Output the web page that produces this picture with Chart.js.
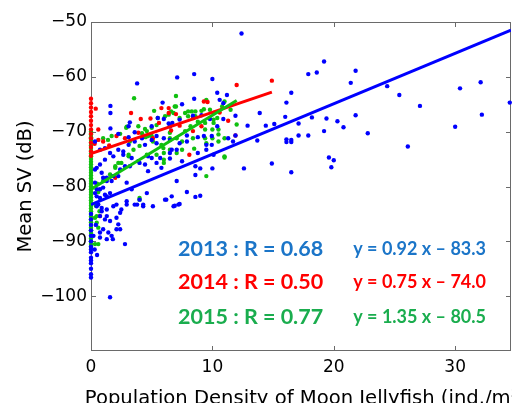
<!DOCTYPE html>
<html><head><meta charset="utf-8">
<script src="https://cdn.jsdelivr.net/npm/chart.js@4"></script>
<style>html,body{margin:0;padding:0;background:#fff;overflow:hidden}#wrap{width:512px;height:403px;overflow:hidden;position:relative}canvas{position:absolute;left:0;top:0}</style>
</head><body><div id="wrap"><canvas id="c" width="540" height="420" style="width:540px;height:420px"></canvas></div>
<script>
// ---- data ----
const xTicks = [0, 10, 20, 30];
const yTicks = [-100, -90, -80, -70, -60, -50];
const xTitle = 'Population Density of Moon Jellyfish (ind./m\u00B3)';
const yTitle = 'Mean SV (dB)';
const seriesNames = ['2013', '2014', '2015'];
const rLabels = ['2013 : R = 0.68', '2014 : R = 0.50', '2015 : R = 0.77'];
const eqLabels = ['y = 0.92 x \u2013 83.3', 'y = 0.75 x \u2013 74.0', 'y = 1.35 x \u2013 80.5'];

const points2013 = [
[0,-85],[0,-86],[0,-87],[0,-88],[0,-89],[0,-90],[0,-91],[0,-91.5],[0,-92],[0,-93],[0,-93.5],[0,-94],[0,-95],[0,-96],[0,-96.6],
[12.4,-52.1],[19.2,-57.2],[17.9,-59.5],[18.6,-59.2],[21.8,-58.9],[21.4,-61.1],[16.5,-62.9],[16.1,-64.7],[13.9,-66.6],[16.0,-67.3],[21.8,-67.0],[18.2,-67.4],[19.4,-67.6],[20.3,-68.1],[17.1,-68.5],[15.1,-68.6],[14.4,-68.9],[20.8,-69.2],[19.2,-69.9],[22.8,-70.3],[17.1,-70.7],[17.9,-70.7],[13.7,-71.6],[16.1,-71.4],[16.1,-71.9],[16.5,-71.5],[16.5,-71.9],[26.1,-72.7],[14.9,-75.8],[19.6,-74.7],[20.0,-75.2],[19.8,-76.5],[16.5,-77.4],[24.4,-61.7],[25.4,-63.3],[27.1,-65.3],[30.4,-62.1],[32.1,-61.0],[32.2,-66.9],[30.0,-69.1],[34.5,-64.7],
[8.5,-59.5],[7.1,-60.1],[10.0,-60.4],[3.8,-61.2],[10.4,-62.9],[8.5,-64.0],[10.6,-64.2],[11.2,-63.3],[1.6,-65.3],[1.6,-66.6],[5.9,-64.7],[7.5,-65.0],[1.6,-69.4],[2.25,-70.4],[9.1,-67.0],[10.9,-64.8],
[12.9,-68.9],[11.9,-67.1],[10.9,-67.7],[9.8,-67.7],[8.4,-67.1],[7.3,-67.8],[6.5,-69.0],[10.4,-69.0],[9.3,-70.8],[9.95,-70.8],[11.9,-70.7],[8.8,-71.0],[7.9,-70.7],
[3.2,-68.3],[3.1,-69.0],[3.6,-70.1],[5.5,-67.5],[6.0,-67.7],[6.7,-68.4],[5.4,-70.8],[3.1,-71.0],
[7.06,-79.0],[8.6,-76.3],[9.0,-76.7],[8.6,-77.9],[10.0,-76.7],[12.6,-76.7],[7.5,-75.4],[7.9,-81.0],[8.6,-81.9],[9.0,-81.7],[6.9,-83.5],[7.3,-83.2],[6.5,-74.9],[8.8,-73.9],[10.1,-74.2],[9.5,-72.4],[9.95,-72.4],[7.9,-71.8],[11.3,-71.2],[11.7,-71.8],[6.65,-73.3],[7.06,-73.3],
[6.4,-68.5],[5.0,-69.0],[7.3,-72.1],[9.5,-73.3],
[0.33,-71.8],[0.74,-73.3],[1.15,-73.0],[1.57,-73.9],[2.25,-73.3],[2.66,-74.2],[3.1,-72.4],[3.6,-71.8],[4.2,-71.2],[4.45,-72.4],[5.0,-71.5],[5.4,-72.1],[6.0,-71.2],[6.5,-71.5],[3.35,-74.8],[3.9,-75.4],[4.45,-76.0],[4.7,-77.2],[5.0,-74.8],[5.4,-75.7],[5.8,-76.6],[2.8,-76.3],[0.47,-76.6],[0.88,-77.5],[1.3,-78.4],[1.7,-79.0],[2.25,-78.1],[0.47,-80.5],[0.74,-82.1],[1.15,-81.5],[0.47,-83.6],[0.88,-84.5],[1.3,-85.4],[2.1,-83.3],[2.4,-84.8],[2.94,-82.7],[3.6,-83.3],[4.3,-83.6],[5.1,-83.6],[6.1,-82.4],[6.65,-81.8],
[0.33,-81.2],[0.47,-81.8],[0.74,-80.5],[1.0,-80.2],[1.3,-81.8],[1.57,-81.2],[0.6,-83.3],[0.88,-83.9],[1.3,-84.2],[1.84,-83.6],[0.74,-85.4],[1.15,-86.0],[1.57,-86.3],[2.1,-85.7],[2.25,-86.9],[1.0,-87.8],[1.43,-88.4],[1.7,-89.0],[0.74,-89.3],[2.1,-87.8],[2.8,-90.5],[2.5,-84.2],[2.94,-83.3],[3.8,-83.3],[4.6,-81.2],[6.2,-82.4],[4.0,-82.4],[3.35,-80.5],[2.94,-79.3],[1.3,-79.0],[1.84,-78.1],[2.4,-76.9],[3.2,-76.3],[4.0,-75.7],[4.7,-74.5],[5.7,-74.8],[6.5,-73.9],[0.74,-76.0],[0.33,-76.9],[1.15,-75.1],[1.84,-74.5],[2.66,-73.6],[0.33,-79.3],[1.0,-78.4],
[1.57,-100.2],[2.4,-87.8],[1.8,-89.6],[1.3,-89.6],[0.74,-88.4],[4.3,-83.3],[7.2,-83.3],[6.8,-83.6],[0.3,-91.5],[0.5,-92.5],[0.2,-89],[0.4,-87]
];

const points2014 = [
[0,-64],[0,-64.8],[0,-65.6],[0,-66.4],[0,-67.2],[0,-68],[0,-68.8],[0,-69.6],[0,-70.4],[0,-71.2],[0,-72],[0,-72.8],[0,-73.6],[0,-74.4],
[0.39,-65.8],[0.6,-69.6],[3.3,-66.6],[4.1,-67.7],[4.9,-67.6],[5.8,-65.7],[6.4,-65.7],[5.6,-68.4],[5.1,-71.2],[6.4,-66.6],[9.3,-64.5],[9.6,-64.6],[12.0,-61.5],[11.3,-68.0],[11.9,-70.7],[8.1,-74.2],[0.6,-71.5],[1.0,-71.8],[2.1,-70.8],[2.8,-71.2],[7.3,-68.9],[8.4,-67.5],[7.0,-66.8],[8.4,-69.9],[9.1,-69.0],[2.0,-78.4],[0.74,-85.4],[14.9,-60.7],[1.5,-72.5],[0.3,-72.2],[3.9,-70.2],[10.6,-66.5],[6.6,-69.8]
];

const points2015 = [
[0,-70],[0,-70.5],[0,-71],[0,-71.5],[0,-72],[0,-72.5],[0,-73],[0,-73.5],[0,-74],[0,-74.5],[0,-75],[0,-75.5],[0,-76],[0,-76.5],[0,-77],[0,-77.5],[0,-78],[0,-78.5],[0,-79],[0,-79.5],[0,-80],[0,-80.5],[0,-81],[0,-81.5],[0,-82],[0,-82.5],[0,-83],[0,-83.5],[0,-84],[0,-84.5],[0,-85],[0,-85.5],[0,-86],[0,-86.5],[0,-87],[0,-87.5],[0,-88],[0,-88.5],[0,-89],[0,-89.5],[0,-90],[0,-90.5],[0,-91],
[3.55,-63.9],[2.94,-69.1],[4.45,-69.5],[5.0,-69.3],[4.5,-71.0],[5.4,-68.8],[6.1,-67.2],[6.6,-66.3],[2.4,-70.4],[1.0,-71.2],[7.0,-63.5],[9.5,-64.2],[9.1,-66.2],[7.0,-65.4],[8.0,-66.3],[8.0,-67.2],[8.6,-66.3],[8.6,-67.2],[9.3,-65.9],[10.1,-66.6],[10.4,-67.5],[10.1,-68.4],[9.4,-68.4],[9.4,-69.6],[10.0,-69.6],[10.5,-69.6],[12.0,-68.7],[8.2,-69.0],[7.75,-69.9],[6.5,-69.0],[6.5,-70.2],[7.3,-67.5],[6.8,-66.6],[9.4,-71.2],[10.0,-71.2],[8.4,-71.2],[11.0,-71.2],[6.5,-71.2],[7.06,-71.2],[7.5,-71.8],[7.06,-73.9],[7.5,-73.3],[8.5,-73.1],[9.5,-72.1],[10.5,-71.8],[11.0,-74.7],[9.5,-78.1],[10.5,-70.5],[1.7,-70.8],[4.7,-70.8],[5.1,-71.8],[5.8,-72.4],[6.0,-73.9],[6.5,-73.3],[5.4,-74.2],[3.5,-73.3],[3.1,-74.2],[2.0,-76.6],[2.5,-75.7],[6.0,-75.1],[4.0,-82.4],[1.0,-79.0],[1.57,-77.8],[2.0,-76.3],[0.47,-85.4],[0.6,-87.5],[0.6,-90.5],[4.0,-82.1],[0.33,-85.7],[0.47,-86.6],[0.33,-90.5],[1.4,-71.5],[2.9,-69.3],[3.9,-69.0],[4.6,-69.9],[5.5,-67.5],[6.4,-66.9],[6.9,-65.4],[7.75,-66.6],[8.3,-66.3],[10.1,-67.8],[11.0,-64.5],[11.0,-74.5],[6.0,-75.7],[5.0,-70.8],[5.96,-73.0],[4.6,-74.2],[3.1,-74.5],[2.25,-75.7],[0.6,-81.0],[0.5,-79.5],[0.4,-83.5],[0.7,-84.5],[3.2,-71.8],[4.0,-72.6],[8.8,-68.2],[9.8,-66.0],[11.5,-66.0],[10.8,-65.4],[5.2,-66.2],[4.2,-70.3]
];

// regression line endpoints
const fit2013 = [[0,-83.3],[34.6,-51.5]];
const fit2014 = [[0,-74.0],[14.9,-62.8]];
const fit2015 = [[0,-80.5],[12.0,-64.3]];

// ---- styling ----
const pointColors = ['#0000ff', '#ff0000', '#10c010'];
const lineColors = ['#0000ff', '#ff0000', '#10c010'];
const textColors = ['#1b75c8', '#ff0000', '#1aad4e'];
const tickFont = {family: 'DejaVu Sans', size: 17};
const yTitleFont = {family: 'DejaVu Sans', size: 19.5};
const toXY = a => a.map(p => ({x: p[0], y: p[1]}));
const minus = v => String(v).replace('-', '\u2212');

const framePlugin = {
  id: 'frame',
  beforeDatasetsDraw(chart) {
    const {ctx, chartArea: a, scales: {x, y}} = chart;
    ctx.save();
    ctx.strokeStyle = '#6a6a6a';
    ctx.lineWidth = 1;
    ctx.strokeRect(a.left + 0.5, a.top + 0.5, a.right - a.left - 1, a.bottom - a.top - 1);
    ctx.beginPath();
    xTicks.forEach(v => {
      const px = Math.round(x.getPixelForValue(v)) + 0.5;
      ctx.moveTo(px, a.bottom); ctx.lineTo(px, a.bottom - 5);
      ctx.moveTo(px, a.top); ctx.lineTo(px, a.top + 5);
    });
    yTicks.forEach(v => {
      const py = Math.round(y.getPixelForValue(v)) + 0.5;
      ctx.moveTo(a.left, py); ctx.lineTo(a.left + 5, py);
      ctx.moveTo(a.right, py); ctx.lineTo(a.right - 5, py);
    });
    ctx.stroke();
    // x-axis title (drawn here so it is not squeezed to the chart-area width)
    ctx.fillStyle = '#000';
    ctx.font = '19.6px "DejaVu Sans"';
    ctx.textAlign = 'center';
    ctx.textBaseline = 'alphabetic';
    ctx.fillText(xTitle, (a.left + a.right) / 2 + 4.5, a.bottom + 53.2);
    ctx.restore();
  },
  afterDatasetsDraw(chart) {
    const {ctx, scales: {x, y}} = chart;
    const rowY = [-91.45, -97.45, -103.8];
    ctx.save();
    ctx.textBaseline = 'middle';
    ctx.textAlign = 'left';
    rLabels.forEach((t, i) => {
      ctx.fillStyle = textColors[i];
      ctx.font = 'bold 21.5px Lato';
      ctx.fillText(t, x.getPixelForValue(7.17), y.getPixelForValue(rowY[i]));
      ctx.font = 'bold 18px Lato';
      ctx.fillText(eqLabels[i], x.getPixelForValue(21.6), y.getPixelForValue(rowY[i]));
    });
    ctx.restore();
  }
};

const scatterDs = (data, i) => ({
  type: 'scatter', label: seriesNames[i], data: toXY(data),
  backgroundColor: pointColors[i], borderColor: pointColors[i], borderWidth: 0,
  pointRadius: 2.2, pointHoverRadius: 2.2, clip: false, order: 10 + i
});
const lineDs = (data, i) => ({
  type: 'line', label: seriesNames[i] + ' fit', data: toXY(data),
  borderColor: lineColors[i], borderWidth: 3, pointRadius: 0, fill: false, order: 3 - i
});

new Chart(document.getElementById('c'), {
  type: 'scatter',
  data: {datasets: [
    scatterDs(points2013, 0), scatterDs(points2014, 1), scatterDs(points2015, 2),
    lineDs(fit2013, 0), lineDs(fit2014, 1), lineDs(fit2015, 2)
  ]},
  options: {
    responsive: false, animation: false, devicePixelRatio: 1,
    layout: {padding: {top: 22, right: 29, bottom: 0, left: 0}},
    plugins: {legend: {display: false}, tooltip: {enabled: false}},
    scales: {
      x: {
        type: 'linear', min: 0, max: 34.6,
        afterBuildTicks: s => { s.ticks = xTicks.map(v => ({value: v})); },
        afterFit: s => { s.height = 69; },
        grid: {display: false, drawTicks: false}, border: {display: false},
        ticks: {font: tickFont, color: '#000', padding: 6, callback: minus, maxRotation: 0},
        title: {display: false}
      },
      y: {
        type: 'linear', min: -110, max: -50,
        afterBuildTicks: s => { s.ticks = yTicks.map(v => ({value: v})); },
        afterFit: s => { s.width = 91; },
        grid: {display: false, drawTicks: false}, border: {display: false},
        ticks: {font: tickFont, color: '#000', padding: 4, callback: minus},
        title: {display: true, text: yTitle, font: yTitleFont, color: '#000', padding: {top: 13.8, bottom: 0}}
      }
    }
  },
  plugins: [framePlugin]
});
</script></body></html>
